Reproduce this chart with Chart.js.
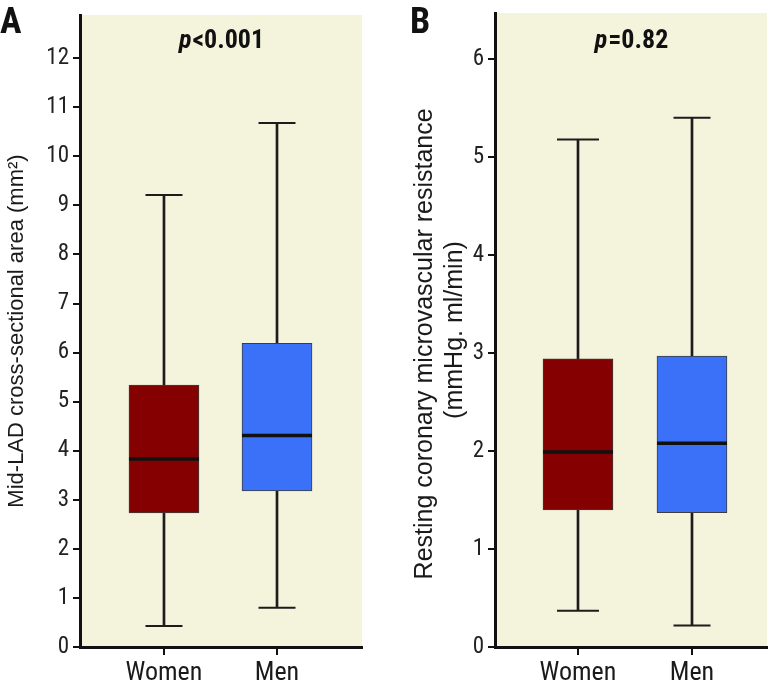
<!DOCTYPE html>
<html>
<head>
<meta charset="utf-8">
<script src="https://cdn.jsdelivr.net/npm/chart.js@4.4.0/dist/chart.umd.min.js"></script>
<style>
  body { margin: 0; background: #fff; }
  #wrap { position: relative; width: 776px; height: 682px; }
  canvas { position: absolute; top: 0; }
</style>
</head>
<body>
<div id="wrap">
  <canvas id="chart-a" width="388" height="682" style="left:0"></canvas>
  <canvas id="chart-b" width="388" height="682" style="left:388px"></canvas>
</div>
<script>
const groups = ['Women', 'Men'];

// A: mid-LAD cross-sectional area (mm²)
const areaMin = [0.43, 0.80];
const areaQ1 = [2.73, 3.18];
const areaMedian = [3.83, 4.31];
const areaQ3 = [5.34, 6.19];
const areaMax = [9.21, 10.68];
const areaTicks = [0, 1, 2, 3, 4, 5, 6, 7, 8, 9, 10, 11, 12];

// B: resting coronary microvascular resistance
const resMin = [0.37, 0.22];
const resQ1 = [1.40, 1.37];
const resMedian = [1.99, 2.08];
const resQ3 = [2.94, 2.97];
const resMax = [5.18, 5.40];
const resTicks = [0, 1, 2, 3, 4, 5, 6];

const boxColors = ['#850000', '#3a71f8'];
const inkColor = '#1c1c1c';
const narrow = '"Roboto Condensed", "DejaVu Sans Condensed", sans-serif';

// fond crème de la zone de tracé + lettre du panneau + valeur p
const panelDecor = {
    id: 'panelDecor',
    beforeDraw(chart, args, opts) {
        const { ctx, chartArea: a } = chart;
        ctx.save();
        ctx.fillStyle = '#f4f3dc';
        ctx.fillRect(a.left, a.top, a.right - a.left, a.bottom - a.top);
        ctx.restore();
    },
    afterDraw(chart, args, opts) {
        const { ctx, chartArea: a } = chart;
        ctx.save();
        ctx.fillStyle = '#111';
        ctx.textBaseline = 'alphabetic';
        ctx.textAlign = 'left';
        ctx.font = 'bold 36px ' + narrow;
        ctx.fillText(opts.letter, opts.letterX, 33);

        // p en italique, le reste en gras
        ctx.font = 'bold italic 26px ' + narrow;
        const pw = ctx.measureText('p').width;
        ctx.font = 'bold 26px ' + narrow;
        const rw = ctx.measureText(opts.pText).width;
        const x0 = (a.left + a.right) / 2 - (pw + rw) / 2;
        ctx.font = 'bold italic 26px ' + narrow;
        ctx.fillText('p', x0, 48);
        ctx.font = 'bold 26px ' + narrow;
        ctx.fillText(opts.pText, x0 + pw + 1, 48);
        ctx.restore();
    }
};

function makeBoxChart(canvasId, s) {
    const whiskers = groups.map((g, i) => ({ x: i, y: [s.min[i], s.max[i]] }));
    const boxes = groups.map((g, i) => ({ x: i, y: [s.q1[i], s.q3[i]] }));
    const caps = [];
    groups.forEach((g, i) => {
        caps.push({ x: i, y: s.min[i] });
        caps.push({ x: i, y: s.max[i] });
    });
    const medians = groups.map((g, i) => ({ x: i, y: s.median[i] }));

    return new Chart(document.getElementById(canvasId), {
        type: 'bar',
        data: {
            datasets: [
                { data: whiskers, backgroundColor: inkColor, barThickness: 2, grouped: false, order: 3 },
                { data: boxes, backgroundColor: boxColors, borderColor: '#3c3c3c', borderWidth: 1,
                  borderSkipped: false, barThickness: 70, grouped: false, order: 2 },
                { type: 'scatter', data: caps, pointStyle: 'line', pointRadius: s.capRadius,
                  borderColor: inkColor, borderWidth: 2, order: 1 },
                { type: 'scatter', data: medians, pointStyle: 'line', pointRadius: 35,
                  borderColor: '#111', borderWidth: 3.5, order: 0 }
            ]
        },
        options: {
            responsive: false,
            animation: false,
            events: [],
            layout: { autoPadding: false, padding: s.padding },
            plugins: {
                legend: { display: false },
                tooltip: { enabled: false },
                panelDecor: { letter: s.letter, letterX: s.letterX, pText: s.pText }
            },
            scales: {
                x: {
                    type: 'linear',
                    offset: false,
                    min: s.xMin,
                    max: s.xMax,
                    border: { display: true, color: '#111', width: 3 },
                    grid: { display: true, offset: false, drawOnChartArea: false, drawTicks: true, tickLength: 8, color: '#111', lineWidth: 2 },
                    afterBuildTicks: scale => { scale.ticks = groups.map((g, i) => ({ value: i })); },
                    afterFit: scale => {
                        scale.height = 35;
                        scale.paddingLeft = 0;
                        scale.paddingRight = 0;
                    },
                    ticks: {
                        autoSkip: false,
                        maxRotation: 0,
                        padding: 3,
                        color: '#1a1a1a',
                        font: { family: narrow, size: 26 },
                        callback: v => groups[v]
                    }
                },
                y: {
                    min: 0,
                    max: s.yMax,
                    border: { display: true, color: '#111', width: 3 },
                    grid: { display: true, drawOnChartArea: false, drawTicks: true, tickLength: 7, color: '#111', lineWidth: 2 },
                    afterBuildTicks: scale => { scale.ticks = s.ticks.map(v => ({ value: v })); },
                    afterFit: scale => {
                        scale.width = s.yWidth;
                        scale.paddingTop = 0;
                        scale.paddingBottom = 0;
                    },
                    ticks: { padding: 4, color: '#222', font: { family: narrow, size: 23 } },
                    title: {
                        display: true,
                        text: s.yTitle,
                        color: '#1a1a1a',
                        padding: { top: s.titlePad, bottom: 0 },
                        font: { family: '"Liberation Sans", Arial, sans-serif', size: s.titleSize }
                    }
                }
            }
        },
        plugins: [panelDecor]
    });
}

makeBoxChart('chart-a', {
    min: areaMin, q1: areaQ1, median: areaMedian, q3: areaQ3, max: areaMax,
    ticks: areaTicks, yMax: 12.88, yWidth: 80,
    xMin: -0.743, xMax: 1.752,
    capRadius: [18.5, 18.5, 18.5, 18.5],
    padding: { top: 15, right: 26, left: 0, bottom: 0 },
    yTitle: 'Mid-LAD cross-sectional area (mm²)', titlePad: 4, titleSize: 22,
    letter: 'A', letterX: 0, pText: '<0.001'
});

makeBoxChart('chart-b', {
    min: resMin, q1: resQ1, median: resMedian, q3: resQ3, max: resMax,
    ticks: resTicks, yMax: 6.47, yWidth: 107,
    xMin: -0.728, xMax: 1.658,
    capRadius: [21, 21, 18.5, 18.5],
    padding: { top: 13, right: 9, left: 0, bottom: 0 },
    yTitle: ['Resting coronary microvascular resistance    ', '(mmHg. ml/min)'], titlePad: 22, titleSize: 25,
    letter: 'B', letterX: 22, pText: '=0.82'
});
</script>
</body>
</html>
